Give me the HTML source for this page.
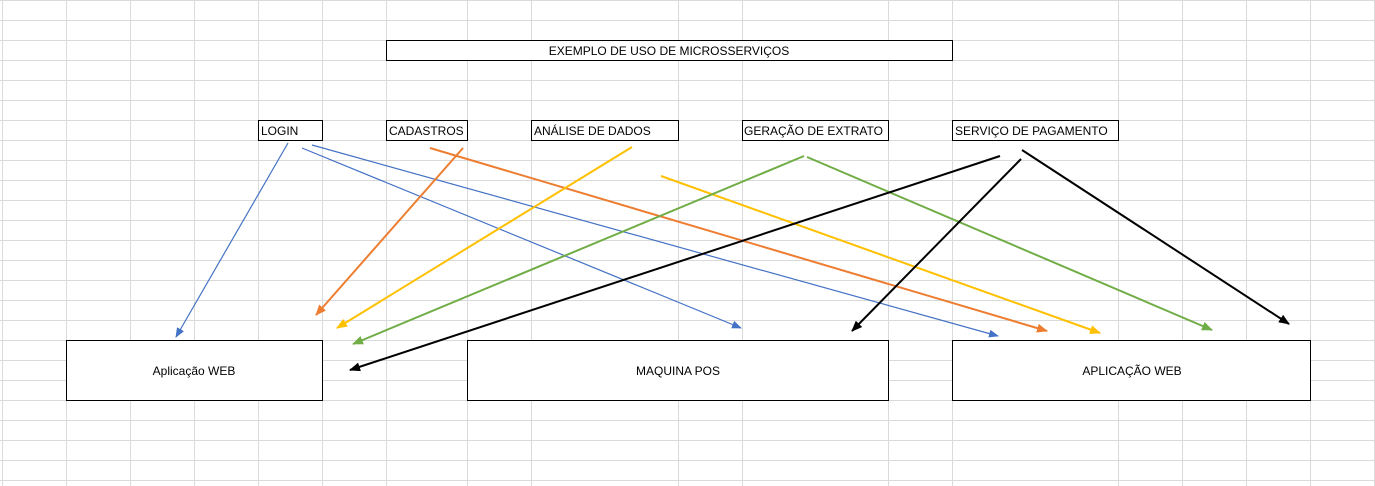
<!DOCTYPE html>
<html><head><meta charset="utf-8"><style>
html,body{margin:0;padding:0;background:#fff}
svg{display:block}
text{font-family:"Liberation Sans",sans-serif;font-size:12px;fill:#000}
</style></head><body>
<svg width="1375" height="486" xmlns="http://www.w3.org/2000/svg">
<defs>
<marker id="mb" markerWidth="10" markerHeight="8" refX="9" refY="4" orient="auto" markerUnits="userSpaceOnUse"><path d="M0,0 L10,4 L0,8 z" fill="#4472C4"/></marker>
<marker id="mo" markerWidth="11" markerHeight="9" refX="10" refY="4.5" orient="auto" markerUnits="userSpaceOnUse"><path d="M0,0 L11,4.5 L0,9 z" fill="#ED7D31"/></marker>
<marker id="my" markerWidth="11" markerHeight="9" refX="10" refY="4.5" orient="auto" markerUnits="userSpaceOnUse"><path d="M0,0 L11,4.5 L0,9 z" fill="#FFC000"/></marker>
<marker id="mg" markerWidth="11" markerHeight="9" refX="10" refY="4.5" orient="auto" markerUnits="userSpaceOnUse"><path d="M0,0 L11,4.5 L0,9 z" fill="#70AD47"/></marker>
<marker id="mk" markerWidth="11" markerHeight="9" refX="10" refY="4.5" orient="auto" markerUnits="userSpaceOnUse"><path d="M0,0 L11,4.5 L0,9 z" fill="#000"/></marker>
</defs>
<g stroke="#dadada" stroke-width="1">
<path d="M2.5,0V486M66.5,0V486M130.5,0V486M194.5,0V486M258.5,0V486M322.5,0V486M386.5,0V486M467.5,0V486M531.5,0V486M678.5,0V486M742.5,0V486M888.5,0V486M952.5,0V486M1118.5,0V486M1182.5,0V486M1246.5,0V486M1310.5,0V486M1374.5,0V486"/>
<path d="M0,0.5H1375M0,20.5H1375M0,40.5H1375M0,60.5H1375M0,80.5H1375M0,100.5H1375M0,120.5H1375M0,140.5H1375M0,160.5H1375M0,180.5H1375M0,200.5H1375M0,220.5H1375M0,240.5H1375M0,260.5H1375M0,280.5H1375M0,300.5H1375M0,320.5H1375M0,340.5H1375M0,360.5H1375M0,380.5H1375M0,400.5H1375M0,420.5H1375M0,440.5H1375M0,460.5H1375M0,480.5H1375"/>
</g>
<g fill="#fff" stroke="#000" stroke-width="1">
<rect x="386.5" y="40.5" width="566" height="20"/>
<rect x="258.5" y="120.5" width="64" height="20"/>
<rect x="386.5" y="120.5" width="81" height="20"/>
<rect x="531.5" y="120.5" width="147" height="20"/>
<rect x="742.5" y="120.5" width="146" height="20"/>
<rect x="952.5" y="120.5" width="166" height="20"/>
<rect x="66.5" y="340.5" width="256" height="60"/>
<rect x="467.5" y="340.5" width="421" height="60"/>
<rect x="952.5" y="340.5" width="358" height="60"/>
</g>
<text x="669" y="55" text-anchor="middle">EXEMPLO DE USO DE MICROSSERVIÇOS</text>
<text x="261" y="135">LOGIN</text>
<text x="389" y="135">CADASTROS</text>
<text x="534" y="135">ANÁLISE DE DADOS</text>
<text x="744" y="135">GERAÇÃO DE EXTRATO</text>
<text x="955" y="135">SERVIÇO DE PAGAMENTO</text>
<text x="194" y="375" text-anchor="middle">Aplicação WEB</text>
<text x="678" y="375" text-anchor="middle">MAQUINA POS</text>
<text x="1132" y="375" text-anchor="middle">APLICAÇÃO WEB</text>
<g fill="none">
<line x1="288" y1="143" x2="176" y2="337" stroke="#4472C4" stroke-width="1.2" marker-end="url(#mb)"/>
<line x1="302" y1="148" x2="741" y2="328" stroke="#4472C4" stroke-width="1.2" marker-end="url(#mb)"/>
<line x1="312" y1="145" x2="998" y2="336" stroke="#4472C4" stroke-width="1.2" marker-end="url(#mb)"/>
<line x1="463" y1="148" x2="316" y2="315" stroke="#ED7D31" stroke-width="2" marker-end="url(#mo)"/>
<line x1="430" y1="148" x2="1047" y2="331" stroke="#ED7D31" stroke-width="2" marker-end="url(#mo)"/>
<line x1="632" y1="147" x2="337" y2="328" stroke="#FFC000" stroke-width="2" marker-end="url(#my)"/>
<line x1="661" y1="176" x2="1100" y2="333" stroke="#FFC000" stroke-width="2" marker-end="url(#my)"/>
<line x1="804" y1="156" x2="353" y2="344" stroke="#70AD47" stroke-width="2" marker-end="url(#mg)"/>
<line x1="807" y1="157" x2="1212" y2="330" stroke="#70AD47" stroke-width="2" marker-end="url(#mg)"/>
<line x1="1000" y1="156" x2="350" y2="370" stroke="#000" stroke-width="2" marker-end="url(#mk)"/>
<line x1="1021" y1="159" x2="852" y2="331" stroke="#000" stroke-width="2" marker-end="url(#mk)"/>
<line x1="1022" y1="150" x2="1289" y2="324" stroke="#000" stroke-width="2" marker-end="url(#mk)"/>
</g>
</svg>
</body></html>
